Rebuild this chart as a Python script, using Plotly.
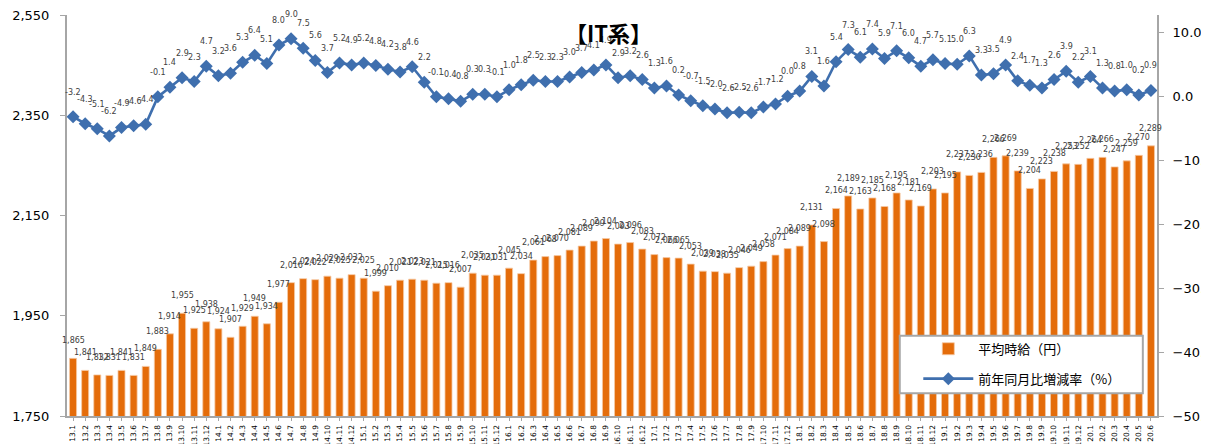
import plotly.graph_objects as go

months = ([f"{y}.{m}" for y in range(13, 20) for m in range(1, 13)]
          + [f"20.{m}" for m in range(1, 7)])

wage = [1865, 1841, 1832, 1831, 1841, 1831, 1849, 1883, 1914, 1955, 1925, 1938,
        1924, 1907, 1929, 1949, 1934, 1977, 2016, 2024, 2022, 2029, 2025, 2032,
        2025, 1999, 2010, 2021, 2023, 2021, 2015, 2016, 2007, 2035, 2031, 2031,
        2045, 2034, 2061, 2068, 2070, 2081, 2089, 2099, 2104, 2093, 2096, 2083,
        2072, 2066, 2065, 2053, 2039, 2038, 2035, 2046, 2049, 2058, 2071, 2084,
        2089, 2131, 2098, 2164, 2189, 2163, 2185, 2168, 2195, 2181, 2169, 2203,
        2195, 2237, 2230, 2236, 2266, 2269, 2239, 2204, 2223, 2238, 2253, 2252,
        2264, 2266, 2247, 2259, 2270, 2289]

yoy = [-3.2, -4.3, -5.1, -6.2, -4.9, -4.6, -4.4, -0.1, 1.4, 2.9, 2.3, 4.7,
       3.2, 3.6, 5.3, 6.4, 5.1, 8.0, 9.0, 7.5, 5.6, 3.7, 5.2, 4.9,
       5.2, 4.8, 4.2, 3.8, 4.6, 2.2, -0.1, -0.4, -0.8, 0.3, 0.3, -0.1,
       1.0, 1.8, 2.5, 2.3, 2.3, 3.0, 3.7, 4.1, 4.9, 2.9, 3.2, 2.6,
       1.3, 1.6, 0.2, -0.7, -1.5, -2.0, -2.6, -2.5, -2.6, -1.7, -1.2, 0.0,
       0.8, 3.1, 1.6, 5.4, 7.3, 6.1, 7.4, 5.9, 7.1, 6.0, 4.7, 5.7,
       5.1, 5.0, 6.3, 3.3, 3.5, 4.9, 2.4, 1.7, 1.3, 2.6, 3.9, 2.2,
       3.1, 1.3, 0.8, 1.0, 0.2, 0.9]

BAR_COLOR = "#E46C0A"
LINE_COLOR = "#3F6FAE"
LABEL_COLOR = "#404040"
AXIS_COLOR = "#A6A6A6"
NUM_FONT = "DejaVu Sans"
JP_FONT = "Noto Sans CJK JP"

idx = list(range(len(months)))

fig = go.Figure()
fig.add_trace(go.Bar(
    x=idx, y=wage, name="平均時給（円）", legendgroup="a",
    marker=dict(color=BAR_COLOR, line=dict(color="#F6C9A4", width=0.8)),
    yaxis="y", hoverinfo="skip",
))
fig.add_trace(go.Scatter(
    x=idx, y=yoy, name="前年同月比増減率（%）", mode="lines+markers", legendgroup="b",
    line=dict(color=LINE_COLOR, width=2.6),
    marker=dict(symbol="diamond", size=10, color=LINE_COLOR),
    yaxis="y2", hoverinfo="skip", cliponaxis=False,
))

annotations = []
for i, v in zip(idx, wage):
    annotations.append(dict(
        x=i, y=v, xref="x", yref="y", text=f"{v:,}", showarrow=False,
        yanchor="bottom", yshift=11,
        font=dict(family=NUM_FONT, size=8, color=LABEL_COLOR)))
for i, v in zip(idx, yoy):
    annotations.append(dict(
        x=i, y=v, xref="x", yref="y2", text=f"{v:.1f}", showarrow=False,
        yanchor="bottom", yshift=18,
        font=dict(family=NUM_FONT, size=8, color=LABEL_COLOR)))
annotations.append(dict(
    x=0.497, y=0.958, xref="paper", yref="paper", xanchor="center", yanchor="middle",
    text="<b>【IT系】</b>", showarrow=False,
    font=dict(family=JP_FONT, size=22, color="#000000")))

fig.update_layout(
    width=1201, height=436,
    margin=dict(l=59, r=52, t=7, b=28, autoexpand=False),
    paper_bgcolor="white", plot_bgcolor="white",
    bargap=0.42,
    showlegend=True,
    legend=dict(
        x=0.781, y=0.205, xanchor="left", yanchor="top",
        bgcolor="rgba(0,0,0,0)", borderwidth=0,
        font=dict(family=JP_FONT, size=13, color="#000000"),
        itemwidth=50, tracegroupgap=10,
    ),
    shapes=[dict(type="rect", xref="paper", yref="paper",
                 x0=0.764, x1=0.987, y0=0.057, y1=0.2,
                 line=dict(color=AXIS_COLOR, width=2), fillcolor="white", layer="above")],
    annotations=annotations,
    xaxis=dict(
        range=[-0.5, len(months) - 0.5], autorange=False,
        tickmode="array", tickvals=idx, ticktext=months,
        tickangle=-90, showgrid=False, automargin=False,
        ticklabeloverflow="allow", ticklabelstandoff=1,
        tickfont=dict(family=NUM_FONT, size=7.5, color="#000000"),
        showline=True, linecolor=AXIS_COLOR, linewidth=2,
        ticks="outside", tickson="boundaries", ticklen=3, tickcolor=AXIS_COLOR,
        zeroline=False,
    ),
    yaxis=dict(
        range=[1750, 2550], autorange=False, tickvals=[1750, 1950, 2150, 2350, 2550],
        tickformat=",d", showgrid=False, zeroline=False, automargin=False,
        ticklabeloverflow="allow",
        showline=True, linecolor=AXIS_COLOR, linewidth=2,
        ticks="outside", ticklen=5, tickcolor=AXIS_COLOR,
        ticklabelstandoff=8,
        tickfont=dict(family=NUM_FONT, size=13, color="#000000"),
    ),
    yaxis2=dict(
        range=[-50, 12.7], autorange=False, tickvals=[-50, -40, -30, -20, -10, 0, 10],
        tickformat=".1f", overlaying="y", side="right", automargin=False,
        ticklabeloverflow="allow",
        showgrid=False, zeroline=False,
        showline=True, linecolor=AXIS_COLOR, linewidth=2,
        ticks="outside", ticklen=5, tickcolor=AXIS_COLOR,
        ticklabelstandoff=6,
        tickfont=dict(family=NUM_FONT, size=13, color="#000000"),
    ),
)

fig.write_html("out.html")
